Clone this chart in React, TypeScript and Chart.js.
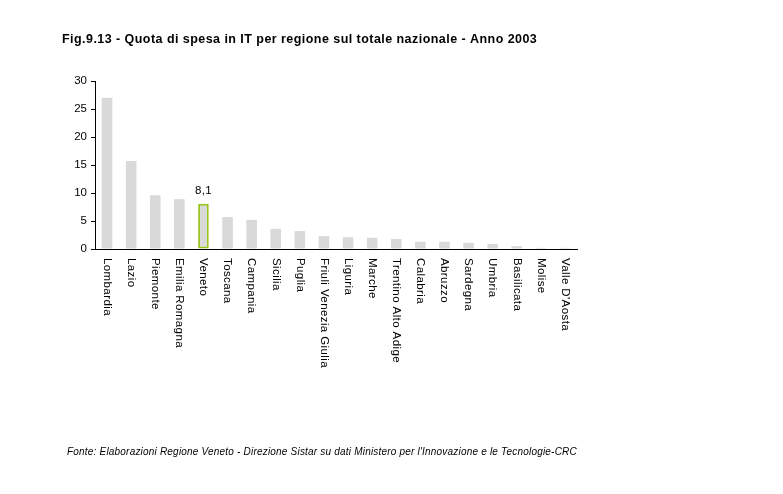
import React, { useEffect, useRef } from "react";
import { Chart, registerables } from "chart.js";

Chart.register(...registerables);

const titleText = "Fig.9.13 - Quota di spesa in IT per regione sul totale nazionale - Anno 2003";
const sourceText =
  "Fonte: Elaborazioni Regione Veneto - Direzione Sistar su dati Ministero per l'Innovazione e le Tecnologie-CRC";

const regions = [
  "Lombardia",
  "Lazio",
  "Piemonte",
  "Emilia Romagna",
  "Veneto",
  "Toscana",
  "Campania",
  "Sicilia",
  "Puglia",
  "Friuli Venezia Giulia",
  "Liguria",
  "Marche",
  "Trentino Alto Adige",
  "Calabria",
  "Abruzzo",
  "Sardegna",
  "Umbria",
  "Basilicata",
  "Molise",
  "Valle D'Aosta",
];

const shares = [27.0, 15.7, 9.6, 8.9, 8.1, 5.7, 5.2, 3.6, 3.2, 2.3, 2.1, 2.0, 1.8, 1.3, 1.3, 1.1, 0.9, 0.5, 0.2, 0.2];

const highlighted = "Veneto";
const highlightLabel = "8,1";

const yTicks = [0, 5, 10, 15, 20, 25, 30];

const FONT = "'Liberation Sans', Arial, sans-serif";

export default function App() {
  const canvasRef = useRef<HTMLCanvasElement | null>(null);

  useEffect(() => {
    const canvas = canvasRef.current;
    if (!canvas) return;

    const textPlugin = {
      id: "customText",
      afterDraw(chart: any) {
        const ctx = chart.ctx;
        const xScale = chart.scales.x;
        const yScale = chart.scales.y;
        ctx.save();
        ctx.fillStyle = "#000";
        // title
        ctx.font = `bold 12.5px ${FONT}`;
        ctx.letterSpacing = "0.45px";
        ctx.textAlign = "left";
        ctx.textBaseline = "alphabetic";
        ctx.fillText(titleText, 62, 43);
        // source
        ctx.font = `italic 10px ${FONT}`;
        ctx.letterSpacing = "0.2px";
        ctx.fillText(sourceText, 67, 455);
        // rotated category labels
        ctx.font = `11.5px ${FONT}`;
        ctx.letterSpacing = "0.4px";
        ctx.textBaseline = "middle";
        regions.forEach((r, i) => {
          const x = xScale.getPixelForValue(i);
          ctx.save();
          ctx.translate(x, chart.chartArea.bottom + 9);
          ctx.rotate(Math.PI / 2);
          ctx.textAlign = "left";
          ctx.fillText(r, 0, 0);
          ctx.restore();
        });
        // highlight value label
        const hi = regions.indexOf(highlighted);
        if (hi >= 0) {
          ctx.font = `11.5px ${FONT}`;
          ctx.letterSpacing = "0.3px";
          ctx.textAlign = "center";
          ctx.textBaseline = "alphabetic";
          ctx.fillText(highlightLabel, xScale.getPixelForValue(hi), yScale.getPixelForValue(shares[hi]) - 10);
        }
        ctx.restore();
      },
    };

    const chart = new Chart(canvas, {
      type: "bar",
      data: {
        labels: regions,
        datasets: [
          {
            data: shares,
            backgroundColor: "#d9d9d9",
            borderColor: regions.map((r) => (r === highlighted ? "#99c31c" : "rgba(0,0,0,0)")),
            borderWidth: regions.map((r) => (r === highlighted ? 2 : 0)),
            borderSkipped: false,
            barPercentage: 0.44,
            categoryPercentage: 1,
          },
        ],
      },
      options: {
        animation: false,
        responsive: false,
        maintainAspectRatio: false,
        layout: { padding: { left: 0, right: 206, top: 81, bottom: 0 } },
        plugins: {
          legend: { display: false },
          title: { display: false },
          tooltip: { enabled: false },
        },
        scales: {
          x: {
            type: "category",
            grid: { display: false, drawTicks: false },
            border: { display: true, color: "#000", width: 1 },
            ticks: { display: false },
            afterFit: (s: any) => {
              s.height = 245;
            },
          },
          y: {
            min: 0,
            max: 30,
            afterBuildTicks: (s: any) => {
              s.ticks = yTicks.map((v) => ({ value: v }));
            },
            grid: { display: true, drawOnChartArea: false, drawTicks: true, tickLength: 4, color: "#000" },
            border: { display: true, color: "#000", width: 1 },
            ticks: {
              color: "#000",
              font: { family: FONT, size: 11.5 },
              padding: 4,
              callback: (v: any) => String(v),
            },
            afterFit: (s: any) => {
              s.width = 95;
            },
          },
        },
      },
      plugins: [textPlugin],
    });

    return () => chart.destroy();
  }, []);

  return (
    <div style={{ position: "absolute", left: 0, top: 0, width: 783, height: 494, background: "#fff" }}>
      <canvas ref={canvasRef} width={783} height={494} style={{ display: "block", width: 783, height: 494 }} />
    </div>
  );
}
